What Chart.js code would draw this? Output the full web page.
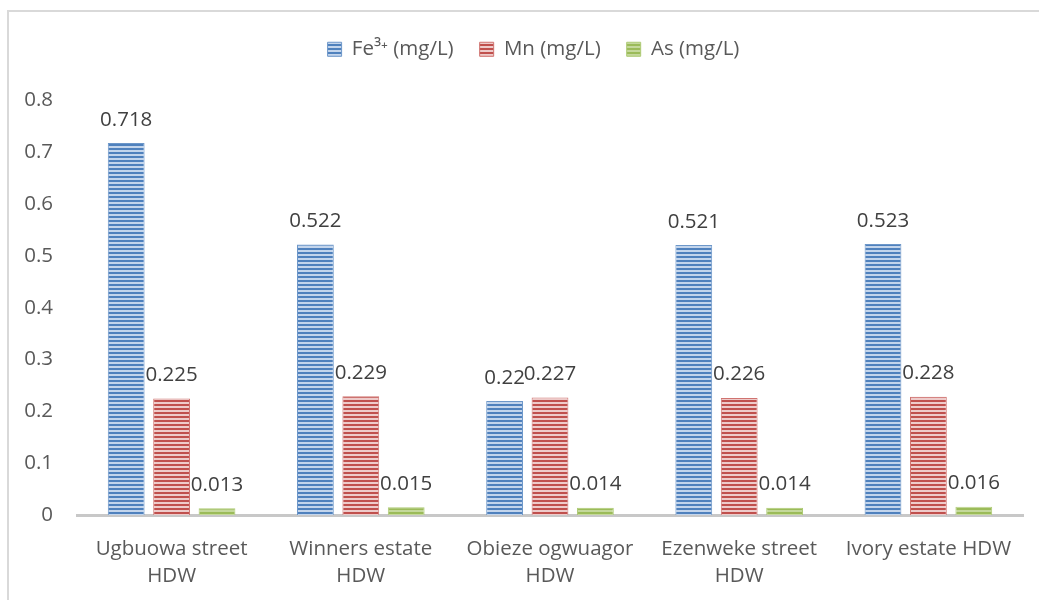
<!DOCTYPE html>
<html>
<head>
<meta charset="utf-8">
<script src="https://cdn.jsdelivr.net/npm/chart.js@4.4.1/dist/chart.umd.min.js"></script>
<style>
    html, body { margin: 0; padding: 0; background: #ffffff; }
    #wrap { width: 1039px; height: 600px; }
</style>
</head>
<body>
<div id="wrap"><canvas id="chart" width="1039" height="600"></canvas></div>
<script>
const sites = [
    ['Ugbuowa street', 'HDW'],
    ['Winners estate', 'HDW'],
    ['Obieze ogwuagor', 'HDW'],
    ['Ezenweke street', 'HDW'],
    ['Ivory estate HDW'],
];
const seriesNames = ['Fe³⁺ (mg/L)', 'Mn (mg/L)', 'As (mg/L)'];
const feValues = [0.718, 0.522, 0.22, 0.521, 0.523];
const mnValues = [0.225, 0.229, 0.227, 0.226, 0.228];
const asValues = [0.013, 0.015, 0.014, 0.014, 0.016];
const yTicks = [0, 0.1, 0.2, 0.3, 0.4, 0.5, 0.6, 0.7, 0.8];

const FONT = '"Open Sans", "DejaVu Sans", sans-serif';
const FSIZE = 20.5;
const textColor = '#595959';

// striped fill like the office "horizontal lines" pattern
function stripes(dark, light) {
    const c = document.createElement('canvas');
    c.width = 4;
    c.height = 4;
    const g = c.getContext('2d');
    g.fillStyle = light;
    g.fillRect(0, 0, 4, 4);
    g.fillStyle = dark;
    g.fillRect(0, 0, 4, 2);
    return g.createPattern(c, 'repeat');
}

const blueFill = stripes('#4f81bd', '#c3d5ec');
const redFill = stripes('#c0504d', '#eecbca');
const greenFill = stripes('#9bbb59', '#c4d89b');

const frame = {
    id: 'frame',
    beforeDraw(chart) {
        const ctx = chart.ctx;
        ctx.save();
        ctx.strokeStyle = '#d9d9d9';
        ctx.lineWidth = 2;
        ctx.strokeRect(8, 11, 1100, 700);
        ctx.restore();
    },
};

const valueLabels = {
    id: 'valueLabels',
    afterDatasetsDraw(chart) {
        const ctx = chart.ctx;
        ctx.save();
        ctx.font = FSIZE + 'px ' + FONT;
        ctx.fillStyle = '#404040';
        ctx.textAlign = 'center';
        ctx.textBaseline = 'bottom';
        chart.data.datasets.forEach((ds, i) => {
            const meta = chart.getDatasetMeta(i);
            meta.data.forEach((bar, j) => {
                ctx.fillText(String(ds.data[j]), bar.x, bar.y - 13);
            });
        });
        ctx.restore();
    },
};

// extra room under the legend, and nudge it a bit to the right
const legendSpace = {
    id: 'legendSpace',
    beforeInit(chart) {
        const fit = chart.legend.fit;
        chart.legend.fit = function () {
            fit.bind(chart.legend)();
            this.height += 31;
        };
    },
    afterLayout(chart) {
        chart.legend.left += 17;
        chart.legend.right += 17;
    },
};

const commonBar = {
    borderWidth: 1,
    categoryPercentage: 0.72,
    barPercentage: 0.81,
};

new Chart(document.getElementById('chart'), {
    type: 'bar',
    data: {
        labels: sites,
        datasets: [
            { label: seriesNames[0], data: feValues, backgroundColor: blueFill, borderColor: '#6d97c9', ...commonBar },
            { label: seriesNames[1], data: mnValues, backgroundColor: redFill, borderColor: '#d07370', ...commonBar },
            { label: seriesNames[2], data: asValues, backgroundColor: greenFill, borderColor: '#aecb76', ...commonBar },
        ],
    },
    options: {
        responsive: false,
        animation: false,
        layout: { padding: { left: 10, right: 16, top: 13, bottom: 0 } },
        plugins: {
            legend: {
                position: 'top',
                labels: {
                    font: { family: FONT, size: FSIZE },
                    color: textColor,
                    boxWidth: 14,
                    boxHeight: 14,
                    padding: 26,
                },
            },
            tooltip: { enabled: false },
            title: { display: false },
        },
        scales: {
            x: {
                grid: { display: false, drawTicks: false },
                border: { display: true, color: '#c8c8c8', width: 3 },
                ticks: {
                    font: { family: FONT, size: FSIZE, lineHeight: 1.32 },
                    color: textColor,
                    padding: 21,
                    maxRotation: 0,
                },
                afterFit(scale) {
                    scale.height = 85;
                },
            },
            y: {
                min: 0,
                max: 0.8,
                grid: { display: false, drawTicks: false },
                border: { display: false },
                afterBuildTicks(scale) {
                    scale.ticks = yTicks.map((v) => ({ value: v }));
                },
                ticks: {
                    font: { family: FONT, size: FSIZE },
                    color: textColor,
                    padding: 24,
                    callback: (v) => String(v),
                },
                afterFit(scale) {
                    scale.width = 67;
                },
            },
        },
    },
    plugins: [frame, valueLabels, legendSpace],
});
</script>
</body>
</html>
